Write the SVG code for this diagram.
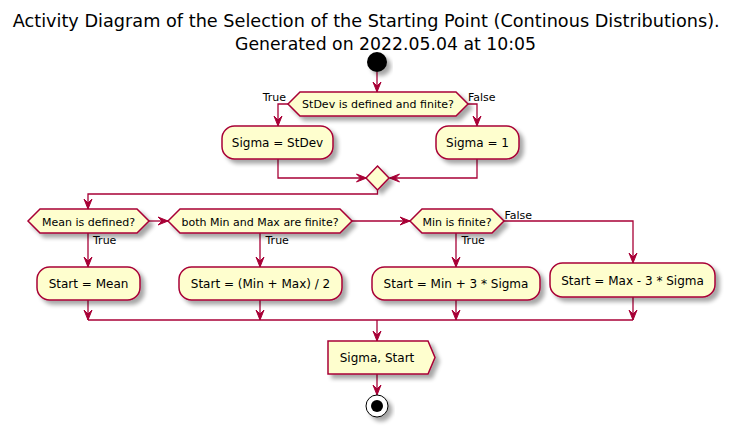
<svg xmlns="http://www.w3.org/2000/svg" width="738" height="432" viewBox="0 0 738 432">
<style>
.n{fill:#FEFECE;stroke:#A80036;stroke-width:1.5;filter:url(#sh)}
.t{font-family:"DejaVu Sans",Verdana,sans-serif;font-size:12px;fill:#000;text-anchor:middle}
.d{font-family:"DejaVu Sans",Verdana,sans-serif;font-size:11px;fill:#000;text-anchor:middle}
.l{font-family:"DejaVu Sans",Verdana,sans-serif;font-size:11px;fill:#000}
.title{font-family:"DejaVu Sans",Verdana,sans-serif;font-size:17px;fill:#000}
.c path{fill:none;stroke:#A80036;stroke-width:1.3}
.c path.a{marker-end:url(#ar)}
</style>
<defs>
<filter id="sh" x="-20%" y="-20%" width="150%" height="160%">
<feGaussianBlur in="SourceAlpha" stdDeviation="2"/>
<feOffset dx="4" dy="4" result="o"/>
<feComponentTransfer><feFuncA type="linear" slope="0.35"/></feComponentTransfer>
<feMerge><feMergeNode/><feMergeNode in="SourceGraphic"/></feMerge>
</filter>
<marker id="ar" markerUnits="userSpaceOnUse" markerWidth="12" markerHeight="10" refX="10" refY="4" orient="auto" overflow="visible">
<path d="M0,0 L10,4 L0,8 L4,4 Z" fill="#A80036" stroke="#A80036" stroke-width="1"/>
</marker>
</defs>
<rect width="738" height="432" fill="#fff"/>
<text class="title" x="12.7" y="27" textLength="707" lengthAdjust="spacingAndGlyphs">Activity Diagram of the Selection of the Starting Point (Continous Distributions).</text>
<text class="title" x="235" y="49.5" textLength="301" lengthAdjust="spacingAndGlyphs">Generated on 2022.05.04 at 10:05</text>

<g class="c" id="connectors">
<path class="a" d="M377,72 V92"/>
<path class="a" d="M288,104 H278 V126"/>
<path class="a" d="M468,104 H477 V126"/>
<path class="a" d="M278,159 V178 H366.5"/>
<path class="a" d="M477,159 V178 H389.5"/>
<path class="a" d="M377.5,190 V194 H88 V209"/>
<path class="a" d="M88,233 V267"/>
<path class="a" d="M149,221 H168"/>
<path class="a" d="M260,233 V267"/>
<path class="a" d="M352,221 H410"/>
<path class="a" d="M456,233 V267"/>
<path class="a" d="M504,221 H633 V263"/>
<path class="a" d="M88,300 V320"/>
<path class="a" d="M260,300 V320"/>
<path class="a" d="M456,300 V320"/>
<path class="a" d="M633,297 V320"/>
<path d="M88,320 H633"/>
<path class="a" d="M377,320 V341"/>
<path class="a" d="M377,374 V395"/>
<text class="l" x="286" y="100.5" text-anchor="end">True</text>
<text class="l" x="468" y="100.5">False</text>
<text class="l" x="93" y="244">True</text>
<text class="l" x="265.5" y="244">True</text>
<text class="l" x="461.5" y="244">True</text>
<text class="l" x="504.5" y="219">False</text>
</g>

<g id="start"><circle cx="377" cy="62" r="10" fill="#000" filter="url(#sh)"/></g>

<g id="dec1">
<polygon class="n" points="288,104 300,92 456,92 468,104 456,116 300,116"/>
<text class="d" x="378" y="108">StDev is defined and finite?</text>
</g>
<g id="sigmaStdev">
<rect class="n" x="222" y="126" width="111" height="33" rx="12.5"/>
<text class="t" x="277.5" y="147">Sigma = StDev</text>
</g>
<g id="sigmaOne">
<rect class="n" x="436" y="126" width="83" height="33" rx="12.5"/>
<text class="t" x="477.5" y="147">Sigma = 1</text>
</g>
<g id="merge1">
<polygon class="n" points="377.5,166 389,178 377.5,190 366,178"/>
</g>
<g id="dec2">
<polygon class="n" points="28,221 40,209 137,209 149,221 137,233 40,233"/>
<text class="d" x="88.5" y="225.5">Mean is defined?</text>
</g>
<g id="dec3">
<polygon class="n" points="168,221 180,209 340,209 352,221 340,233 180,233"/>
<text class="d" x="260" y="225.5">both Min and Max are finite?</text>
</g>
<g id="dec4">
<polygon class="n" points="410,221 422,209 492,209 504,221 492,233 422,233"/>
<text class="d" x="457" y="225.5">Min is finite?</text>
</g>
<g id="startMean">
<rect class="n" x="37" y="267" width="103" height="33" rx="12.5"/>
<text class="t" x="88.5" y="288">Start = Mean</text>
</g>
<g id="startMid">
<rect class="n" x="179" y="267" width="163" height="33" rx="12.5"/>
<text class="t" x="260.5" y="288">Start = (Min + Max) / 2</text>
</g>
<g id="startMin">
<rect class="n" x="372" y="267" width="168" height="33" rx="12.5"/>
<text class="t" x="456" y="288">Start = Min + 3 * Sigma</text>
</g>
<g id="startMax">
<rect class="n" x="550" y="263" width="165" height="34" rx="12.5"/>
<text class="t" x="632.5" y="284.5">Start = Max - 3 * Sigma</text>
</g>
<g id="output">
<polygon class="n" points="328,341 428,341 435,357.5 428,374 328,374"/>
<text class="t" x="377" y="362">Sigma, Start</text>
</g>
<g id="stop">
<circle cx="377" cy="406" r="11" fill="#fff" stroke="#000" stroke-width="1" filter="url(#sh)"/>
<circle cx="377" cy="406" r="6" fill="#000"/>
</g>
</svg>
